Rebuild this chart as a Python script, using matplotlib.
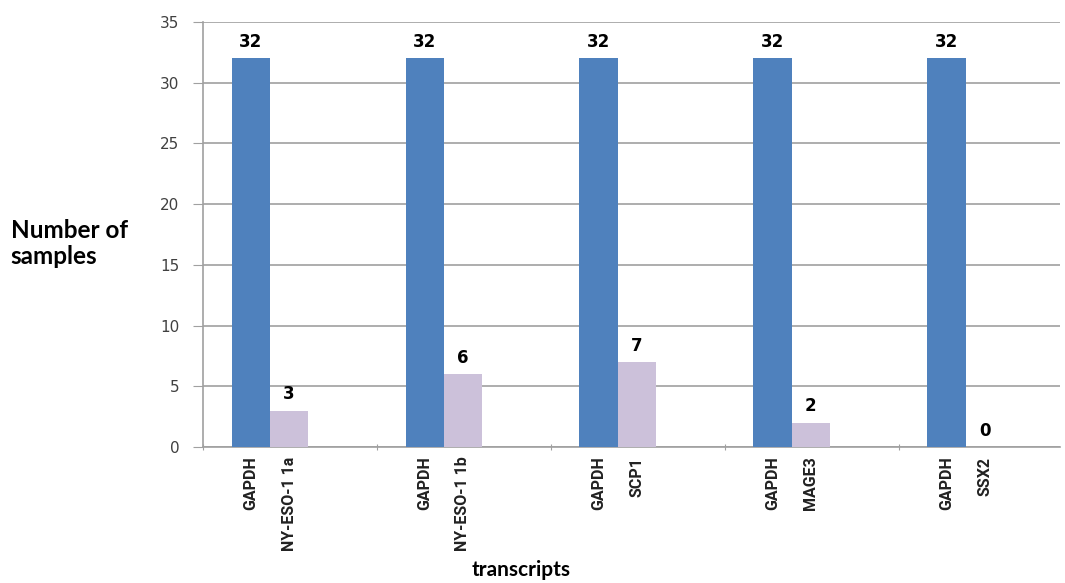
import matplotlib.pyplot as plt
import numpy as np

# values
targets = ['NY-ESO-1 1a', 'NY-ESO-1 1b', 'SCP1', 'MAGE3', 'SSX2']
gapdh = [32, 32, 32, 32, 32]
positives = [3, 6, 7, 2, 0]

blue = '#4F81BD'
lilac = '#CCC1DA'
grey = '#A0A0A0'

fig = plt.figure(figsize=(10.65, 5.83), dpi=100)
ax = fig.add_axes([0.1906, 0.2333, 0.805, 0.729])

groups = np.arange(len(targets))
w = 0.22
x1 = groups + 0.275
x2 = groups + 0.495

ax.bar(x1, gapdh, width=w, color=blue, zorder=3)
ax.bar(x2, positives, width=w, color=lilac, zorder=3)

for x, v in zip(x1, gapdh):
    ax.text(x, v + 0.6, str(v), ha='center', va='bottom', fontsize=12, fontweight='bold')
for x, v in zip(x2, positives):
    ax.text(x, v + 0.6, str(v), ha='center', va='bottom', fontsize=12, fontweight='bold')

ax.set_ylim(0, 35)
ax.set_xlim(0, 4.93)
ax.set_yticks(range(0, 36, 5))
ax.yaxis.grid(True, color=grey, linewidth=1.2, zorder=0)
ax.tick_params(axis='y', length=7, color=grey, labelsize=11, labelcolor='#404040', pad=10)

# group separators as major ticks, bar names as minor labels
ax.set_xticks(groups)
ax.set_xticklabels([])
ax.tick_params(axis='x', which='major', length=5, color=grey, direction='inout')
pos = np.concatenate([x1, x2])
labs = ['GAPDH'] * len(targets) + targets
ax.set_xticks(pos, minor=True)
ax.set_xticklabels(labs, minor=True, rotation=90, fontsize=11.5, fontweight='bold',
                   family='Roboto', va='top', color='#222222')
ax.tick_params(axis='x', which='minor', length=0, pad=7)

for s in ['top', 'right']:
    ax.spines[s].set_visible(False)
for s in ['left', 'bottom']:
    ax.spines[s].set_color(grey)
    ax.spines[s].set_linewidth(1.2)

fig.text(0.01, 0.583, 'Number of\nsamples', fontsize=17.5, fontweight='bold', family='Lato',
         ha='left', va='center', linespacing=1.15)
fig.text(0.489, 0.022, 'transcripts', fontsize=15, fontweight='bold', family='Lato',
         ha='center', va='center')

fig.savefig('out.png', dpi=100)
